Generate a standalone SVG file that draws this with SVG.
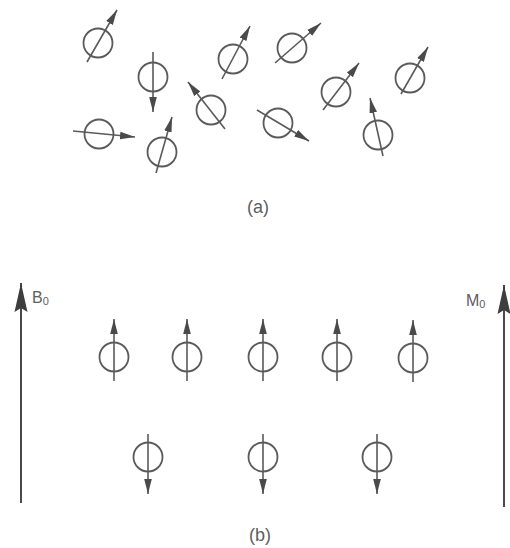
<svg xmlns="http://www.w3.org/2000/svg" width="510" height="548" viewBox="0 0 510 548">
<style>
.c{fill:none;stroke:#5a5a5a;stroke-width:1.8}
.l{stroke:#5a5a5a;stroke-width:1.6;fill:none;marker-end:url(#ah)}
.ax{stroke:#4a4a4a;stroke-width:2;fill:none;marker-end:url(#big)}
.t{font-family:"Liberation Sans",Arial,sans-serif;fill:#606060}
</style>
<defs>
<marker id="ah" markerUnits="userSpaceOnUse" markerWidth="16" markerHeight="9" refX="15" refY="4.5" orient="auto">
<path d="M0,0.7 L15,4.5 L0,8.3 z" fill="#4a4a4a"/>
</marker>
<marker id="big" markerUnits="userSpaceOnUse" markerWidth="30" markerHeight="14" refX="29" refY="7" orient="auto">
<path d="M0,0.5 L29,7 L0,13.5 L4,7 z" fill="#3e3e3e"/>
</marker>
</defs>
<rect width="510" height="548" fill="#fff"/>
<g id="panel-a">
<g id="a1"><circle class="c" cx="98" cy="43" r="14.5"/><line class="l" x1="87" y1="62" x2="117" y2="10"/></g>
<g id="a2"><circle class="c" cx="153" cy="77" r="14.5"/><line class="l" x1="153" y1="52" x2="153" y2="112"/></g>
<g id="a3"><circle class="c" cx="233" cy="59" r="14.5"/><line class="l" x1="222" y1="79" x2="250" y2="26"/></g>
<g id="a4"><circle class="c" cx="211" cy="110" r="14.5"/><line class="l" x1="225" y1="129" x2="188" y2="82"/></g>
<g id="a5"><circle class="c" cx="99" cy="134" r="14.5"/><line class="l" x1="73" y1="131" x2="135" y2="137"/></g>
<g id="a6"><circle class="c" cx="162" cy="152" r="14.5"/><line class="l" x1="156" y1="173" x2="172" y2="117"/></g>
<g id="a7"><circle class="c" cx="292" cy="48" r="14.5"/><line class="l" x1="275" y1="63" x2="321" y2="23"/></g>
<g id="a8"><circle class="c" cx="336" cy="92" r="14.5"/><line class="l" x1="323" y1="110" x2="359" y2="63"/></g>
<g id="a9"><circle class="c" cx="410" cy="78" r="14.5"/><line class="l" x1="401" y1="94" x2="428" y2="47"/></g>
<g id="a10"><circle class="c" cx="278" cy="123" r="14.5"/><line class="l" x1="257" y1="110" x2="309" y2="141"/></g>
<g id="a11"><circle class="c" cx="378" cy="135" r="14.5"/><line class="l" x1="383" y1="156" x2="370" y2="98"/></g>
<text class="t" x="258" y="213" font-size="18" text-anchor="middle">(a)</text>
</g>
<g id="panel-b">
<g id="B0"><line class="ax" x1="21" y1="503" x2="21" y2="283"/><text class="t" x="32" y="303" font-size="16">B<tspan font-size="11" dy="2">0</tspan></text></g>
<g id="M0"><line class="ax" x1="504" y1="507" x2="504" y2="285"/><text class="t" x="466" y="306" font-size="16">M<tspan font-size="11" dy="2">0</tspan></text></g>
<g id="u1"><circle class="c" cx="114" cy="357" r="14.5"/><line class="l" x1="114" y1="381" x2="114" y2="319"/></g>
<g id="u2"><circle class="c" cx="187" cy="357" r="14.5"/><line class="l" x1="187" y1="381" x2="187" y2="319"/></g>
<g id="u3"><circle class="c" cx="263" cy="357" r="14.5"/><line class="l" x1="263" y1="381" x2="263" y2="319"/></g>
<g id="u4"><circle class="c" cx="337" cy="357" r="14.5"/><line class="l" x1="337" y1="381" x2="337" y2="319"/></g>
<g id="u5"><circle class="c" cx="413" cy="358" r="14.5"/><line class="l" x1="413" y1="382" x2="413" y2="320"/></g>
<g id="d1"><circle class="c" cx="148" cy="457" r="14.5"/><line class="l" x1="148" y1="434" x2="148" y2="494"/></g>
<g id="d2"><circle class="c" cx="263" cy="457" r="14.5"/><line class="l" x1="263" y1="434" x2="263" y2="494"/></g>
<g id="d3"><circle class="c" cx="377" cy="457" r="14.5"/><line class="l" x1="377" y1="434" x2="377" y2="494"/></g>
<text class="t" x="260" y="541" font-size="18" text-anchor="middle">(b)</text>
</g>
</svg>
